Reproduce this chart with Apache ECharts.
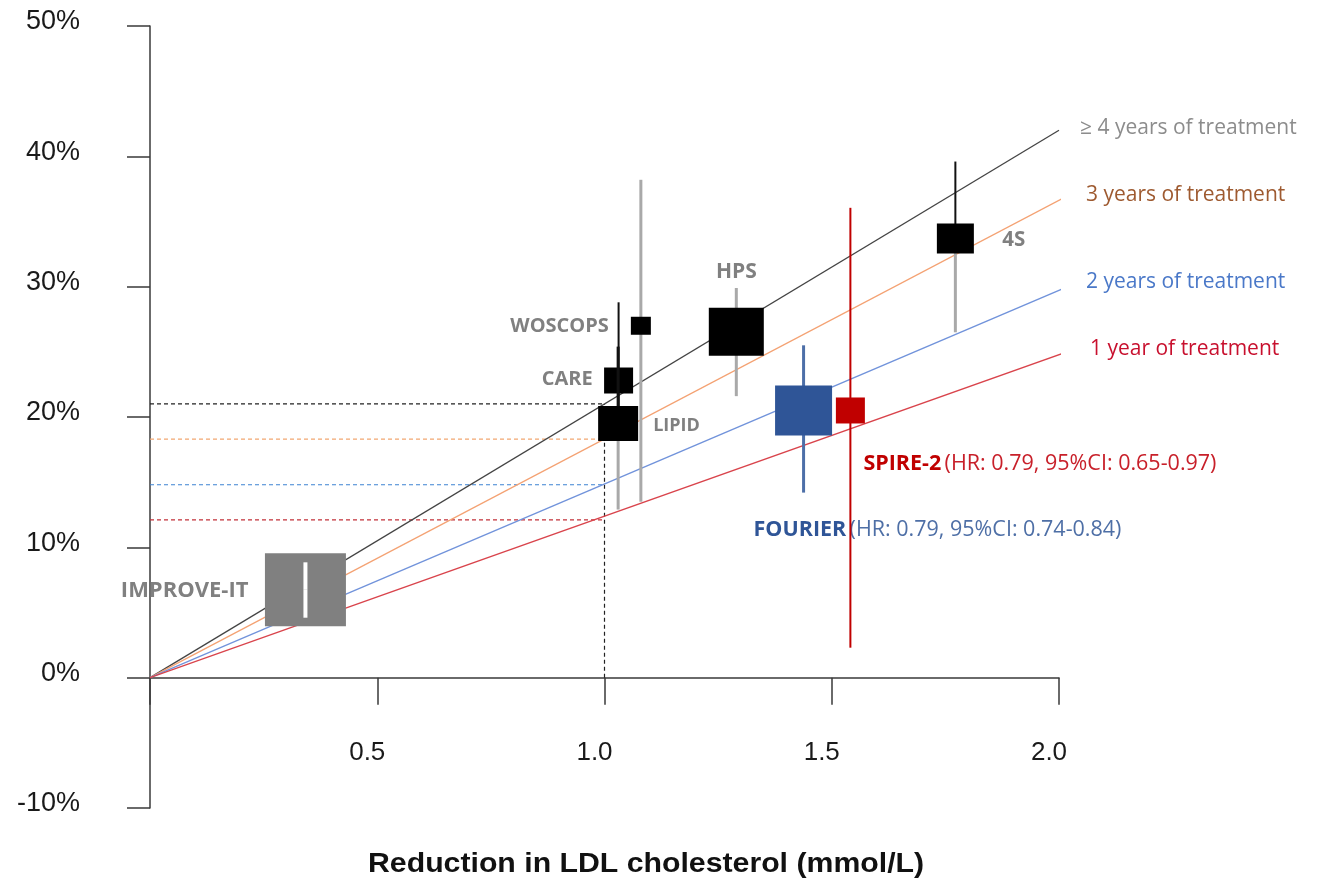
<!DOCTYPE html>
<html>
<head>
<meta charset="utf-8">
<script src="https://cdn.jsdelivr.net/npm/echarts@6/dist/echarts.min.js"></script>
<style>
html,body{margin:0;padding:0;background:#fff;}
#chart{width:1319px;height:879px;}
</style>
</head>
<body>
<div id="chart"></div>
<script>
// ---------- DATA ----------
const xTickValues = [0, 0.5, 1.0, 1.5, 2.0];
const yTickValues = [-10, 0, 10, 20, 30, 40, 50];
const xAxisTitle = 'Reduction in LDL cholesterol (mmol/L)';

// treatment-duration lines (from origin)
const lineNames = ['≥ 4 years of treatment', '3 years of treatment', '2 years of treatment', '1 year of treatment'];
const lineEndX = [2.0, 2.026, 2.026, 2.026];
const lineEndY = [42.0, 37.1, 30.1, 25.1];

// dashed reference lines at 1.0 mmol/L
const refX = 1.0;
const refY = [21.0, 18.3, 14.8, 12.1];

// trials
const trialNames = ['IMPROVE-IT', 'WOSCOPS', 'CARE', 'LIPID', 'HPS', 'FOURIER', 'SPIRE-2', '4S'];
const ldlReduction = [0.342, 1.080, 1.031, 1.030, 1.290, 1.438, 1.541, 1.772];
const riskReduction = [6.74, 27.0, 22.8, 19.5, 26.55, 20.5, 20.5, 33.7];
const ciLow = [4.6, 13.5, 19.5, 12.9, 21.6, 14.2, 2.3, 26.5];
const ciHigh = [8.85, 38.2, 28.8, 25.4, 29.9, 25.5, 36.05, 39.6];
const trialNotes = ['', '', '', '', '', '(HR: 0.79, 95%CI: 0.74-0.84)', '(HR: 0.79, 95%CI: 0.65-0.97)', ''];

// ---------- STYLES ----------
const lineStyles = [
  {color: '#444444', labelColor: '#8c8c8c', dist: 21, dy: -2},
  {color: '#F4A273', labelColor: '#9E5A30', dist: 25, dy: -4},
  {color: '#7193DB', labelColor: '#4A78C8', dist: 25, dy: -8},
  {color: '#D9444C', labelColor: '#C8102E', dist: 29, dy: -5}
];
const refColors = ['#222222', '#F2A771', '#3C82D2', '#C23038'];
const GRAY = '#808080';
const WHISK = '#A9A9A9';
const trialStyle = {
  'IMPROVE-IT': {w: 81, h: 73, fill: '#808080', up: '#ffffff', low: '#ffffff', upW: 4, lowW: 4, onTop: true,
                 dx: -57, dy: 1, align: 'right', color: GRAY, fs: 22},
  'WOSCOPS': {w: 20, h: 18, fill: '#000', up: WHISK, low: WHISK, upW: 3, lowW: 3, dx: -32, dy: 1, align: 'right', color: GRAY, fs: 20},
  'CARE': {w: 29, h: 26, fill: '#000', up: '#111', low: '#111', upW: 2, lowW: 2, dx: -26, dy: -1, align: 'right', color: GRAY, fs: 20},
  'LIPID': {w: 40, h: 35, fill: '#000', up: '#111', low: WHISK, upW: 3, lowW: 3, dx: 35, dy: 2, align: 'left', color: GRAY, fs: 18},
  'HPS': {w: 55, h: 48, fill: '#000', up: WHISK, low: WHISK, upW: 3, lowW: 3, dx: 0, dy: -60, align: 'center', color: GRAY, fs: 21},
  'FOURIER': {w: 57, h: 50, fill: '#2F5597', up: '#4D6FA8', low: '#4D6FA8', upW: 3, lowW: 3, dx: -50, dy: 119, align: 'left',
              color: '#2F5597', noteColor: '#4E6FA6', fs: 21.5},
  'SPIRE-2': {w: 29, h: 26, fill: '#C00000', up: '#C00000', low: '#C00000', upW: 2, lowW: 2, dx: 13, dy: 53, align: 'left',
              color: '#C00000', noteColor: '#C8202A', fs: 21.5},
  '4S': {w: 37, h: 30, fill: '#000', up: '#111', low: WHISK, upW: 2, lowW: 3, dx: 47, dy: 2, align: 'left', color: GRAY, fs: 20.5}
};
const LABEL_FONT = '"Open Sans", "Noto Sans", sans-serif';
const AXIS_FONT = '"Liberation Sans", Arial, sans-serif';

// ---------- BUILD ----------
const series = [];

refY.forEach((v, i) => {
  series.push({
    type: 'line', z: 2, silent: true, showSymbol: false, symbol: 'none',
    lineStyle: {color: refColors[i], width: 1.2, type: [4, 3]},
    data: [[0, v], [refX, v]]
  });
});
series.push({
  type: 'line', z: 2, silent: true, showSymbol: false, symbol: 'none',
  lineStyle: {color: refColors[0], width: 1.2, type: [4, 3]},
  data: [[refX, 0], [refX, refY[0]]]
});

lineNames.forEach((name, i) => {
  const st = lineStyles[i];
  series.push({
    type: 'line', name: name, z: 3, silent: true, clip: false, showSymbol: false, symbol: 'none',
    lineStyle: {color: st.color, width: 1.3},
    data: [[0, 0], [lineEndX[i], lineEndY[i]]],
    endLabel: {
      show: true, formatter: name, distance: st.dist, offset: [0, st.dy],
      color: st.labelColor, fontFamily: LABEL_FONT, fontSize: 21
    }
  });
});

const trialData = trialNames.map((n, i) => [ldlReduction[i], riskReduction[i], ciLow[i], ciHigh[i], i]);

series.push({
  type: 'custom', z: 10, silent: true,
  data: trialData,
  encode: {x: 0, y: [1, 2, 3]},
  renderItem: function (params, api) {
    const i = api.value(4);
    const name = trialNames[i];
    const st = trialStyle[name];
    const x = api.value(0), y = api.value(1), lo = api.value(2), hi = api.value(3);
    const c = api.coord([x, y]);
    const pHi = api.coord([x, hi]);
    const pLo = api.coord([x, lo]);
    const whiskers = [
      {type: 'line', shape: {x1: c[0], y1: pHi[1], x2: c[0], y2: c[1]}, style: {stroke: st.up, lineWidth: st.upW}},
      {type: 'line', shape: {x1: c[0], y1: c[1], x2: c[0], y2: pLo[1]}, style: {stroke: st.low, lineWidth: st.lowW}}
    ];
    const rect = {type: 'rect', shape: {x: c[0] - st.w / 2, y: c[1] - st.h / 2, width: st.w, height: st.h},
                  style: {fill: st.fill}};
    const note = trialNotes[i];
    const text = {
      type: 'text', x: c[0] + st.dx, y: c[1] + st.dy,
      style: note ? {
        text: '{b|' + name + '} {n|' + note + '}',
        align: st.align, verticalAlign: 'middle',
        rich: {
          b: {fontFamily: LABEL_FONT, fontSize: st.fs, fontWeight: 'bold', fill: st.color, color: st.color},
          n: {fontFamily: LABEL_FONT, fontSize: st.fs, fill: st.noteColor, color: st.noteColor}
        }
      } : {
        text: name, fill: st.color, align: st.align, verticalAlign: 'middle',
        fontFamily: LABEL_FONT, fontSize: st.fs, fontWeight: 'bold'
      }
    };
    const children = st.onTop ? [rect].concat(whiskers) : whiskers.concat([rect]);
    children.push(text);
    return {type: 'group', children: children};
  }
});

const axisColor = '#3a3a3a';
const option = {
  animation: false,
  backgroundColor: '#ffffff',
  grid: {left: 150, right: 260, top: 26, bottom: 71, containLabel: false, outerBoundsMode: 'none'},
  xAxis: {
    type: 'value', min: xTickValues[0], max: xTickValues[xTickValues.length - 1], interval: 0.5,
    axisLine: {show: true, onZero: true, lineStyle: {color: axisColor, width: 1.5}},
    axisTick: {show: true, length: 27, lineStyle: {color: axisColor, width: 1.5}},
    splitLine: {show: false},
    axisLabel: {
      margin: -68, color: '#1a1a1a', fontFamily: AXIS_FONT, fontSize: 26, padding: [0, 20, 0, 0],
      formatter: v => (v === 0 ? '' : v.toFixed(1))
    }
  },
  yAxis: {
    type: 'value', min: yTickValues[0], max: yTickValues[yTickValues.length - 1], interval: 10,
    axisLine: {show: true, lineStyle: {color: axisColor, width: 1.5}},
    axisTick: {show: true, length: 23, lineStyle: {color: axisColor, width: 1.5}},
    splitLine: {show: false},
    axisLabel: {
      margin: 70, color: '#1a1a1a', fontFamily: AXIS_FONT, fontSize: 27,
      verticalAlign: 'bottom', lineHeight: 8,
      formatter: '{value}%'
    }
  },
  graphic: [{
    type: 'text', x: 368, y: 850, scaleX: 1.08,
    style: {text: xAxisTitle, fill: '#111', font: 'bold 28px "Liberation Sans", Arial, sans-serif', verticalAlign: 'top'}
  }],
  series: series
};

const chart = echarts.init(document.getElementById('chart'), null, {renderer: 'canvas'});
chart.setOption(option);
</script>
</body>
</html>
